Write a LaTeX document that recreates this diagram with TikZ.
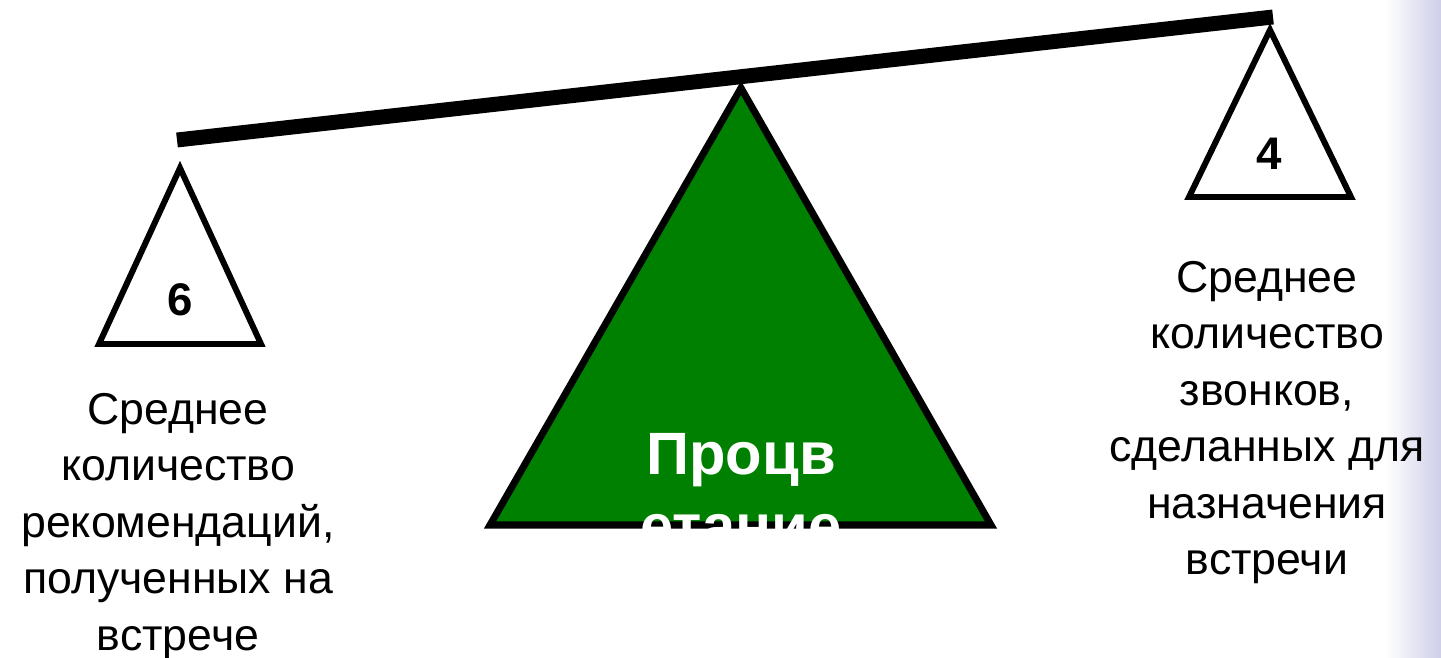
\documentclass[tikz,border=0pt]{standalone}
\usepackage{fontspec}
\setmainfont{Liberation Sans}
\usepackage{xcolor}
\usetikzlibrary{positioning, calc}
\definecolor{scalegreen}{RGB}{0,128,0}
\definecolor{sidelav}{RGB}{206,206,232}

\begin{document}
\begin{tikzpicture}[x=0.02cm, y=-0.02cm,
  beam/.style={line width=8.5pt, line cap=butt},
  pan/.style={draw, line width=3.4pt, line join=miter, fill=white},
  fulcrum/.style={draw, line width=4pt, line join=miter, fill=scalegreen},
  weight/.style={font=\fontsize{26pt}{30pt}\selectfont\bfseries, inner sep=0pt},
  caption/.style={align=center, inner sep=0pt, anchor=north,
                  font=\fontsize{25.4pt}{32.1pt}\selectfont}]

  \useasboundingbox (0,0) rectangle (1441,658);
  \shade[left color=white, right color=sidelav] (1385,0) rectangle (1441,658);

  % fulcrum
  \coordinate (top) at (741,88);
  \coordinate (fl)  at (490,525);
  \coordinate (fr)  at (991,525);
  \draw[fulcrum] (top) -- (fl) -- (fr) -- cycle;
  \begin{scope}
    \clip (0,0) rectangle (1441,529);
    \node[align=center, text=white, inner sep=0pt, anchor=north,
          font=\fontsize{34pt}{41pt}\selectfont\bfseries]
          (ftext) at (741,433) {Процв\\етание};
  \end{scope}

  % beam
  \coordinate (bl) at (177,140);
  \coordinate (br) at (1273,17);
  \draw[beam] (bl) -- (br);

  % pans
  \draw[pan] (180,168) -- (99,344) -- (261,344) -- cycle;
  \draw[pan] (1270,30) -- (1189,197) -- (1351,197) -- cycle;
  \node[weight] (wl) at (180,300) {6};
  \node[weight] (wr) at (1269,154) {4};

  \node[caption] (cl) at (178,393)
    {Среднее\\количество\\рекомендаций,\\полученных на\\встрече};
  \node[caption] (cr) at (1267,261)
    {Среднее\\количество\\звонков,\\сделанных для\\назначения\\встречи};
\end{tikzpicture}
\end{document}
